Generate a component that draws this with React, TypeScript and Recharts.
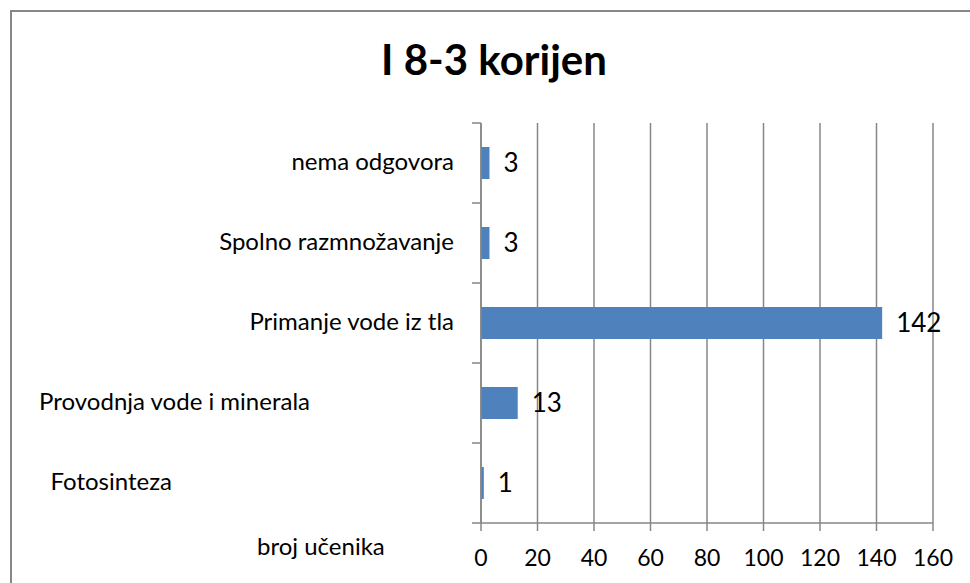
import { BarChart, Bar, XAxis, YAxis, CartesianGrid, LabelList } from 'recharts';

const categories: string[] = ['nema odgovora', 'Spolno razmnožavanje', 'Primanje vode iz tla', 'Provodnja vode i minerala', 'Fotosinteza'];
const counts: number[] = [3, 3, 142, 13, 1];
const xTicks: number[] = [0, 20, 40, 60, 80, 100, 120, 140, 160];

const title = 'I 8-3 korijen';
const axisTitle = 'broj učenika';

const GRID = '#878787';
const FONT = 'Lato, "Open Sans", sans-serif';
const BAND = 400 / categories.length;

// excel put the last two labels somewhere odd, so shift them by hand
const labelShift: Record<number, { anchor: 'start' | 'end'; dx: number }> = {
    3: { anchor: 'end', dx: -162 },
    4: { anchor: 'end', dx: -300 },
};

type TickProps = {
    x: number,
    y: number,
    index: number,
    payload: { value: string }
}

function CategoryTick({ x, y, index, payload }: TickProps) {
    const shift = labelShift[index] || { anchor: 'end', dx: -18 };
    return (
        <g>
            <line x1={x} x2={x + 9} y1={y - BAND / 2} y2={y - BAND / 2} stroke={GRID} strokeWidth={1.5} />
            {index === categories.length - 1 && (
                <line x1={x} x2={x + 9} y1={y + BAND / 2} y2={y + BAND / 2} stroke={GRID} strokeWidth={1.5} />
            )}
            <text x={x + shift.dx} y={y} dy="0.3em" textAnchor={shift.anchor} fontSize={24} fontFamily={FONT} fill="#000">
                {payload.value}
            </text>
        </g>
    );
}

export default function App() {
    const data = categories.map((name, i) => ({ name, value: counts[i] }));

    return (
        <div style={{ position: 'relative', width: 970, height: 583, overflow: 'hidden', background: '#fff' }}>
            <style>{`body { margin: 0; }`}</style>
            <div style={{ position: 'absolute', left: 10, top: 10, width: 1000, height: 620, border: `2px solid ${GRID}` }} />
            <div style={{ position: 'absolute', left: 0, top: 38, width: 988, textAlign: 'center', fontFamily: FONT, fontWeight: 700, fontSize: 42, lineHeight: '42px' }}>
                {title}
            </div>
            <div style={{ position: 'absolute', left: 257, top: 534, fontFamily: FONT, fontSize: 24, lineHeight: '24px' }}>
                {axisTitle}
            </div>
            <div style={{ position: 'absolute', left: 0, top: 0 }}>
                <BarChart width={970} height={583} data={data} layout="vertical" margin={{ top: 123, right: 37, bottom: 0, left: 0 }}>
                    <CartesianGrid horizontal={false} stroke={GRID} strokeWidth={1.5} />
                    <XAxis
                        type="number"
                        domain={[0, 160]}
                        ticks={xTicks}
                        height={60}
                        tickSize={8}
                        tickMargin={19}
                        stroke={GRID}
                        strokeWidth={1.5}
                        tick={{ fill: '#000', fontSize: 23, fontFamily: FONT }}
                    />
                    <YAxis
                        type="category"
                        dataKey="name"
                        width={481}
                        tickLine={false}
                        tickSize={9}
                        tickMargin={0}
                        stroke={GRID}
                        strokeWidth={1.5}
                        tick={(props: any) => <CategoryTick {...props} />}
                    />
                    <Bar dataKey="value" fill="#4f81bd" barSize={32} isAnimationActive={false}>
                        <LabelList dataKey="value" position="right" offset={14} fill="#000" fontSize={26} fontFamily={FONT} />
                    </Bar>
                </BarChart>
            </div>
        </div>
    );
}
